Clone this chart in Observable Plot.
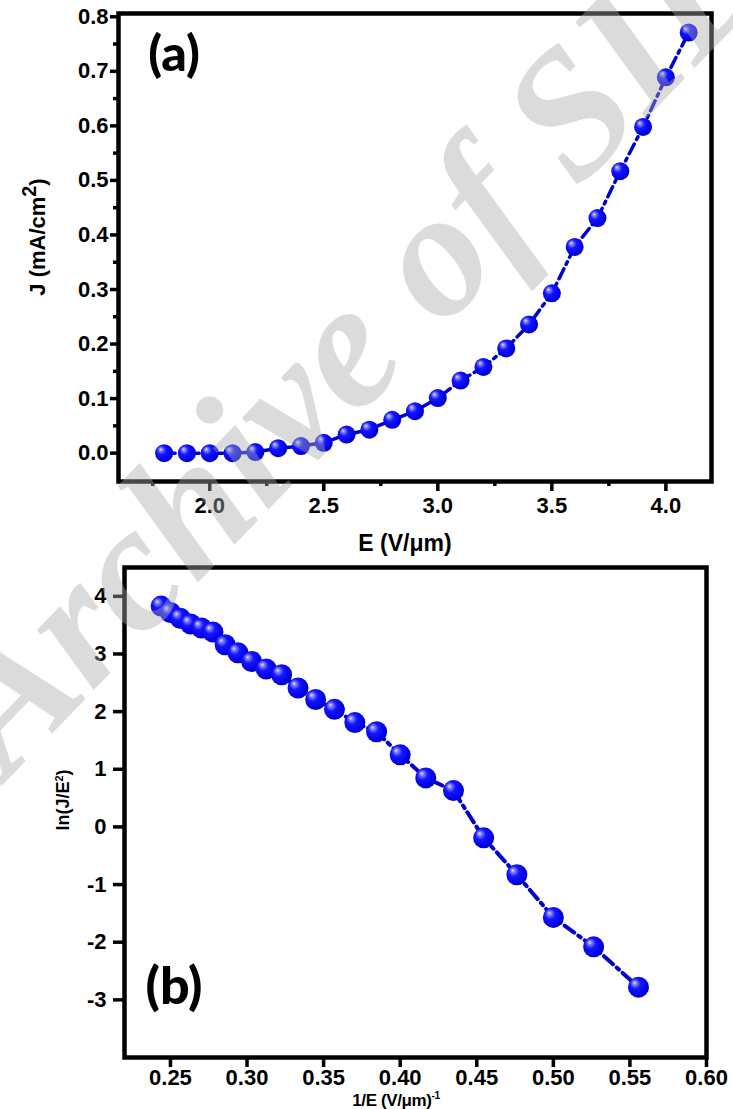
<!DOCTYPE html>
<html><head><meta charset="utf-8">
<script src="https://cdn.jsdelivr.net/npm/d3@7"></script>
<script src="https://cdn.jsdelivr.net/npm/@observablehq/plot@0.6"></script>
<style>
body{margin:0;background:#fff;}
#wrap{position:relative;width:733px;height:1109px;overflow:hidden;font-family:"Liberation Sans",Arial,sans-serif;background:#fff;}
.abs{position:absolute;font-weight:bold;color:#000;white-space:nowrap;line-height:1;}
.panel{position:absolute;left:0;}
#wm{position:absolute;left:-100px;top:675px;transform-origin:0 0;transform:rotate(-46deg);font-family:"Liberation Serif","DejaVu Serif",serif;font-style:italic;font-weight:bold;font-size:180px;line-height:1;color:rgba(170,170,170,0.42);white-space:nowrap;pointer-events:none;z-index:5;}
</style></head><body><div id="wrap"></div>
<script>
// ---- data ----
const E = [1.8,1.9,2.0,2.1,2.2,2.3,2.4,2.5,2.6,2.7,2.8,2.9,3.0,3.1,3.2,3.3,3.4,3.5,3.6,3.7,3.8,3.9,4.0,4.1];
const J = [0.000,0.000,0.000,0.000,0.002,0.009,0.013,0.019,0.034,0.043,0.061,0.077,0.101,0.133,0.158,0.192,0.236,0.293,0.378,0.431,0.517,0.598,0.689,0.771];
const invE = [0.2439,0.2500,0.2564,0.2632,0.2703,0.2778,0.2857,0.2941,0.3030,0.3125,0.3226,0.3333,0.3448,0.3571,0.3704,0.3846,0.4000,0.4167,0.4348,0.4545,0.4762,0.5000,0.5263,0.5556];
const lnJE2 = [3.83,3.72,3.62,3.52,3.45,3.38,3.16,3.02,2.87,2.74,2.64,2.41,2.21,2.04,1.81,1.65,1.25,0.85,0.63,-0.19,-0.83,-1.57,-2.08,-2.78];

const ticksEMajor = [2.0,2.5,3.0,3.5,4.0];
const ticksEMinor = [1.75,2.25,2.75,3.25,3.75];
const ticksJMajor = [0,0.1,0.2,0.3,0.4,0.5,0.6,0.7,0.8];
const ticksJMinor = [0.05,0.15,0.25,0.35,0.45,0.55,0.65,0.75];
const ticksInvE = [0.25,0.30,0.35,0.40,0.45,0.50,0.55,0.60];
const ticksLn = [-3,-2,-1,0,1,2,3,4];

const wrap = document.getElementById("wrap");
const font = "'Liberation Sans', Arial, sans-serif";

function sphere(svg, id) {
  const defs = d3.select(svg).insert("defs", ":first-child");
  const g = defs.append("radialGradient").attr("id", id)
    .attr("cx", "0.42").attr("cy", "0.42").attr("r", "0.6")
    .attr("fx", "0.3").attr("fy", "0.28");
  [[0, "#e4e4ff"], [0.16, "#8080ff"], [0.42, "#1515ff"], [0.85, "#0000e8"], [1, "#0000b0"]]
    .forEach(([o, c]) => g.append("stop").attr("offset", o).attr("stop-color", c));
  d3.select(svg).selectAll("g[aria-label=dot] circle").attr("fill", `url(#${id})`);
}

const dataA = E.map((e, i) => ({E: e, J: J[i]}));
const plotA = Plot.plot({
  width: 733, height: 560,
  marginLeft: 118, marginRight: 22, marginTop: 13, marginBottom: 79,
  style: {fontFamily: font, fontWeight: "bold", fontSize: "22px", color: "#000", background: "transparent", overflow: "visible"},
  x: {domain: [1.6, 4.2]},
  y: {domain: [-0.052, 0.806]},
  marks: [
    Plot.axisX(ticksEMinor, {tickSize: 5, strokeWidth: 3.5, tickFormat: () => "", label: null}),
    Plot.axisX(ticksEMajor, {tickSize: 10, tickPadding: 6, strokeWidth: 3.5, tickFormat: d3.format(".1f"), label: null}),
    Plot.axisY(ticksJMinor, {tickSize: 5, strokeWidth: 3.5, tickFormat: () => "", label: null}),
    Plot.axisY(ticksJMajor, {tickSize: 8, tickPadding: 2, strokeWidth: 3.5, tickFormat: d3.format(".1f"), label: null}),
    Plot.line(dataA, {x: "E", y: "J", stroke: "#0000cc", strokeWidth: 3.5, strokeDasharray: "11,5,3,5"}),
    Plot.dot(dataA, {x: "E", y: "J", r: 9, fill: "#0000ff"}),
    Plot.frame({stroke: "#000", strokeWidth: 4.5})
  ]
});
sphere(plotA, "sphA");
plotA.classList.add("panel"); plotA.style.top = "0px";
wrap.appendChild(plotA);

const dataB = invE.map((v, i) => ({x: v, y: lnJE2[i]}));
const plotB = Plot.plot({
  width: 733, height: 549,
  marginLeft: 124, marginRight: 27, marginTop: 7, marginBottom: 52,
  style: {fontFamily: font, fontWeight: "bold", fontSize: "22px", color: "#000", background: "transparent", overflow: "visible"},
  x: {domain: [0.22, 0.60]},
  y: {domain: [-4.0, 4.5]},
  marks: [
    Plot.axisX(ticksInvE, {tickSize: 10, tickPadding: 2, strokeWidth: 3.5, tickFormat: d3.format(".2f"), label: null}),
    Plot.axisY(ticksLn, {tickSize: 11, tickPadding: 7, strokeWidth: 3.5, tickFormat: d => String(d), label: null}),
    Plot.line(dataB, {x: "x", y: "y", stroke: "#0000cc", strokeWidth: 4, strokeDasharray: "12,5,3,5"}),
    Plot.dot(dataB, {x: "x", y: "y", r: 10.5, fill: "#0000ff"}),
    Plot.frame({stroke: "#000", strokeWidth: 4.5})
  ]
});
sphere(plotB, "sphB");
plotB.classList.add("panel"); plotB.style.top = "560px";
wrap.appendChild(plotB);

function label(html, cx, cy, size, rot, extra) {
  const d = document.createElement("div");
  d.className = "abs";
  d.innerHTML = html;
  d.style.left = cx + "px"; d.style.top = cy + "px";
  d.style.fontSize = size + "px";
  d.style.transform = `translate(-50%,-50%)` + (rot ? ` rotate(${rot}deg)` : "");
  if (extra) Object.assign(d.style, extra);
  wrap.appendChild(d);
}
label('J (mA/cm<span style="font-size:0.9em;position:relative;top:-0.45em">2</span>)', 38, 237, 22, -90);
label('E (V/μm)', 405, 543, 23, 0);
label('(a)', 174, 52, 50, 0, {fontFamily: "Lato, 'Open Sans', sans-serif", fontWeight: "900"});
label('ln(J/E<span style="font-size:0.6em;position:relative;top:-0.6em">2</span>)', 63, 800, 18, -90);
label('1/E (V/μm)<span style="font-size:0.6em;position:relative;top:-0.7em">-1</span>', 396, 1100, 17, 0, {letterSpacing: "-0.4px"});
label('(b)', 174, 984, 52, 0, {fontFamily: "Lato, 'Open Sans', sans-serif", fontWeight: "900"});

const wm = document.createElement("div");
wm.id = "wm"; wm.textContent = "Archive of SID";
wrap.appendChild(wm);
</script>
</body></html>
